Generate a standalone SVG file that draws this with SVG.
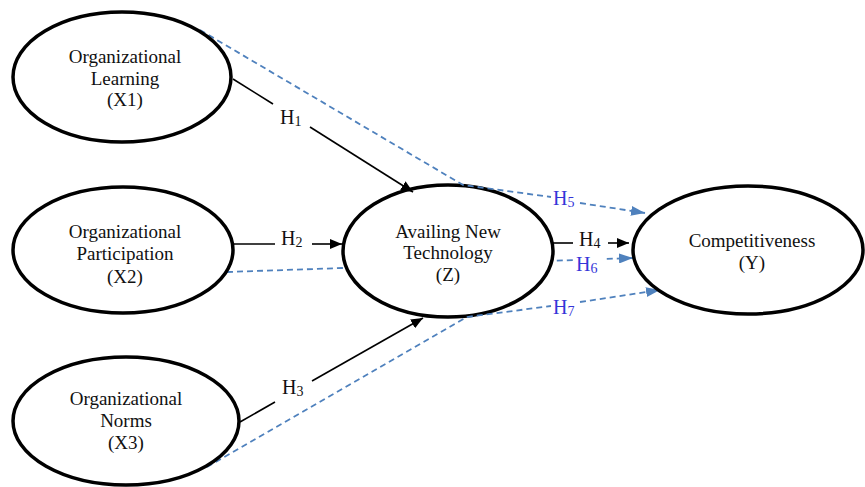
<svg xmlns="http://www.w3.org/2000/svg" width="865" height="487" viewBox="0 0 865 487">
<style>
.node ellipse{fill:#fff;stroke:#000;stroke-width:3.5}
.node text{font-family:"Liberation Serif","Times New Roman",serif;font-size:19px;fill:#111;text-anchor:middle}
.solid{stroke:#000;stroke-width:1.6;fill:none}
.dash{stroke:#4f81bd;stroke-width:1.8;stroke-dasharray:6 4;fill:none}
.lbl{font-family:"Liberation Serif","Times New Roman",serif;font-size:20px;fill:#111}
.lbl.b{fill:#3535d8}
.lbl tspan{font-size:14px}
</style>
<defs>
<marker id="ab" viewBox="0 0 12 10" refX="12" refY="5" markerWidth="12" markerHeight="10" markerUnits="userSpaceOnUse" orient="auto"><path d="M0,0 L12,5 L0,10 Z" fill="#000"/></marker>
<marker id="au" viewBox="0 0 14 10" refX="14" refY="5" markerWidth="14" markerHeight="10" markerUnits="userSpaceOnUse" orient="auto"><path d="M0,0 L14,5 L0,10 Z" fill="#4f81bd"/></marker>
</defs>
<g id="connectors-back">
<path class="dash" d="M227,272 L633,258" marker-end="url(#au)"/>
</g>
<g id="Z" class="node">
<ellipse cx="448" cy="251" rx="105" ry="66"/>
<text x="448" y="238">Availing New</text>
<text x="448" y="259">Technology</text>
<text x="448" y="281">(Z)</text>
</g>
<g id="connectors">
<path class="dash" d="M200,30 L463,185 L551,197"/>
<path class="dash" d="M580,203 L645,213" marker-end="url(#au)"/>
<path class="dash" d="M207,467 L467,317 L551,306"/>
<path class="dash" d="M580,302 L660,290" marker-end="url(#au)"/>
<path class="solid" d="M233,79 L273,104"/>
<path class="solid" d="M310,127 L413,192" marker-end="url(#ab)"/>
<path class="solid" d="M233,244 L275,244"/>
<path class="solid" d="M312,244 L342,244" marker-end="url(#ab)"/>
<path class="solid" d="M240,422 L275,402"/>
<path class="solid" d="M312,381 L423,318" marker-end="url(#ab)"/>
<path class="solid" d="M553,243 L573,243"/>
<path class="solid" d="M608,243 L629,243" marker-end="url(#ab)"/>
<rect x="574" y="254" width="30" height="20" fill="#fff"/>
<text class="lbl" x="280" y="124">H<tspan dy="2">1</tspan></text>
<text class="lbl" x="281" y="245">H<tspan dy="2">2</tspan></text>
<text class="lbl" x="282" y="394">H<tspan dy="2">3</tspan></text>
<text class="lbl" x="579" y="246">H<tspan dy="2">4</tspan></text>
<text class="lbl b" x="553" y="205">H<tspan dy="2">5</tspan></text>
<text class="lbl b" x="576" y="271">H<tspan dy="2">6</tspan></text>
<text class="lbl b" x="553" y="314">H<tspan dy="2">7</tspan></text>
</g>
<g id="X1" class="node">
<ellipse cx="122" cy="77" rx="109" ry="65"/>
<text x="125" y="63">Organizational</text>
<text x="125" y="85">Learning</text>
<text x="125" y="106">(X1)</text>
</g>
<g id="X2" class="node">
<ellipse cx="123" cy="250" rx="110" ry="63"/>
<text x="125" y="238">Organizational</text>
<text x="125" y="260">Participation</text>
<text x="125" y="283">(X2)</text>
</g>
<g id="X3" class="node">
<ellipse cx="126" cy="421" rx="113" ry="64"/>
<text x="126" y="405">Organizational</text>
<text x="126" y="427">Norms</text>
<text x="126" y="449">(X3)</text>
</g>
<g id="Y" class="node">
<ellipse cx="748" cy="250" rx="115" ry="64"/>
<text x="752" y="247">Competitiveness</text>
<text x="752" y="269">(Y)</text>
</g>
</svg>
